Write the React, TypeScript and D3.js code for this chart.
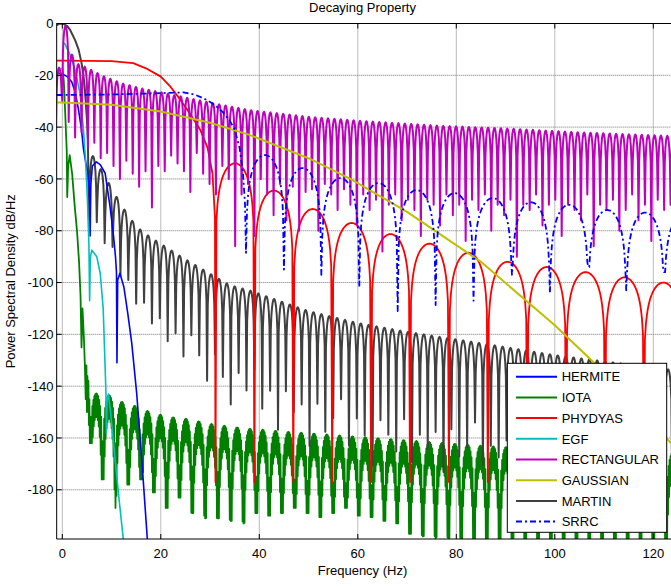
import React from 'react';
import * as d3 from 'd3';

const W = 671;
const H = 587;

// ---------- ticks ----------
const FREQ_TICKS = [0, 20, 40, 60, 80, 100, 120];
const DB_TICKS = [0, -20, -40, -60, -80, -100, -120, -140, -160, -180];

// ---------- series names / colours ----------
const SERIES = ['HERMITE', 'IOTA', 'PHYDYAS', 'EGF', 'RECTANGULAR', 'GAUSSIAN', 'MARTIN', 'SRRC'];
const COLORS = ['#0000FF', '#008000', '#FF0000', '#00BFBF', '#BF00BF', '#BFBF00', '#404040', '#0000FF'];

// ---------- HERMITE ----------
const HERMITE_F = [-1.15, 0, 1, 1.9, 2.6, 3.3, 3.9, 4.3, 4.8, 5.2, 5.5, 5.65, 5.8, 6.1, 6.9, 7.7, 8.7, 9.7, 10.4, 10.8, 11.0, 11.1, 11.25, 11.7, 12.5, 13.3, 14.1, 15.1, 16.2, 17.3];
const HERMITE_DB = [-19, -19.5, -20.5, -22.5, -26.3, -33.4, -41, -48.5, -54, -58, -64, -82, -62, -55, -53.4, -54.5, -57.8, -70.8, -82, -90, -96, -131, -99, -96.4, -101.7, -112, -123.4, -142.7, -170, -200];

// ---------- EGF ----------
const EGF_F = [0, 0.5, 1.6, 2.6, 3.6, 4.3, 4.7, 5.1, 5.4, 5.55, 5.7, 6.0, 7.0, 7.7, 8.3, 8.7, 8.85, 8.95, 9.1, 9.35, 9.8, 10.7, 11.6, 12.5];
const EGF_DB = [-7.2, -7.8, -12.2, -18, -27, -41, -52, -68, -85, -107, -90, -87.5, -90, -96.4, -110, -133, -142, -158, -146, -143, -150, -168, -185, -201];

// ---------- GAUSSIAN ----------
const GAUSSIAN_F = [-1.15, 0, 10, 20, 30, 38, 50, 58.5, 70, 85, 100, 111, 120, 126];
const GAUSSIAN_DB = [-30.5, -30.5, -31.4, -34, -38.3, -43, -52, -60, -72.7, -92, -116.5, -136.5, -154.5, -167];

// ---------- PHYDYAS ----------
const PHYDYAS_MAIN_F = [-1.15, 0, 10, 14.4, 17, 20, 22, 24, 26, 28, 29.5, 30.5, 31.0];
const PHYDYAS_MAIN_DB = [-14.3, -14.3, -14.5, -15.3, -17.3, -20.5, -24.5, -29.5, -35, -41, -48, -58, -75];
const PHYDYAS_NULLS = [31.1, 39.0, 46.9, 54.8, 62.7, 70.6, 78.5, 86.4, 94.4, 102.3, 110.2, 118.1, 126.0];
const PHYDYAS_NULL_DB = [-177, -177, -177, -177, -177, -177, -177, -177, -177, -177, -177, -177, -177];
const PHYDYAS_PEAKS = [-54, -64.5, -71.6, -77, -81.3, -85, -88.5, -92, -94, -96, -98, -100];

// ---------- SRRC ----------
const SRRC_MAIN_F = [-1.15, 0, 10, 18, 24.6, 27, 29.3, 31, 32.5, 34, 35, 36, 36.7, 37.1];
const SRRC_MAIN_DB = [-27.6, -27.6, -27.4, -27, -26.6, -27.5, -29.5, -31.5, -34, -37.5, -41, -48, -58, -70];
const SRRC_NULLS = [37.3, 45.0, 52.6, 60.3, 68.1, 75.8, 83.5, 91.3, 99.0, 106.8, 114.5, 122.2, 129.9];
const SRRC_NULL_DB = [-88.5, -95, -97, -101.7, -111, -108.7, -107, -97, -104, -94, -103, -96, -100];
const SRRC_PEAKS = [-50.8, -55.8, -59.7, -61.6, -64.3, -65.5, -67.4, -69, -70, -72, -73, -74];

// ---------- RECTANGULAR ----------
const RECT_FIRST_NULL = -1.3;
const RECT_PERIOD = 1.3;
const RECT_ENV_F = [-0.65, 0.65, 1.95, 3, 5, 8, 12, 16, 20, 30, 38, 50, 60, 77, 90, 105, 125];
const RECT_ENV_DB = [-17, -1, -12, -15.5, -17, -20, -23, -25, -26.5, -30.5, -33.4, -36, -37.5, -39.5, -40.5, -42, -43.5];
const RECT_NULL_DB = [-40, -30, -38, -44, -42, -48, -46, -52, -50, -55, -60, -53, -58, -63, -57, -71, -55, -57, -51, -54,
  -57, -65, -50, -58, -62, -66, -55, -60, -86, -66, -62, -82, -60, -66, -74, -62, -76, -63, -80, -65,
  -64, -80, -62, -66, -72, -64, -70, -78, -66, -72, -68, -88, -70, -66, -76, -68, -72, -82, -68, -70,
  -78, -66, -74, -70, -84, -68, -72, -66, -80, -70, -74, -68, -90, -70, -72, -66, -78, -70, -68, -82,
  -70, -72, -76, -66, -86, -70, -72, -68, -80, -72, -66, -76, -70, -84, -68, -72, -70, -78];

// ---------- MARTIN ----------
const MARTIN_MAIN_F = [-1.15, -0.5, 0.3, 1.0, 1.6, 2.6, 3.3, 3.9, 4.3, 4.6, 5.0, 5.2];
const MARTIN_MAIN_DB = [-0.6, 0, -0.2, -1, -2.5, -6.4, -10, -15.2, -20, -25.7, -37, -45];
const MARTIN_FIRST_NULL = 5.4;
const MARTIN_PERIOD = 1.6;
const MARTIN_ENV_F = [6.3, 8.3, 10.7, 12.3, 14.8, 16.4, 18.8, 25, 34, 38, 50, 60, 70, 85, 100, 125];
const MARTIN_ENV_DB = [-51.5, -57.8, -66, -71, -77.8, -80.5, -83.6, -91, -101, -103, -111, -115.6, -119, -123.4, -128, -134];
const MARTIN_NULL_DEPTH = [27, 23, 26, 22, 28, 25, 30, 27, 33, 29, 36, 31, 38, 28, 34, 42, 30, 37, 46, 33,
  39, 30, 44, 36, 50, 34, 41, 37, 52, 35, 45, 39, 31, 48, 37, 43, 54, 36, 41, 47,
  34, 50, 39, 44, 37, 52, 35, 45, 41, 31, 47, 39, 43, 36, 49, 41, 37, 45, 33, 47,
  39, 43, 37, 49, 41, 35, 44, 38, 50, 36, 42, 47, 34, 45, 40, 38];

// ---------- IOTA ----------
const IOTA_MAIN_F = [0, 0.3, 0.6, 0.9, 1.0, 1.2, 1.5, 2.0, 2.5, 3.0, 3.4, 3.7, 3.9, 4.1, 4.4, 4.6, 4.75, 4.9, 5.0, 5.1, 5.2, 5.3, 5.4, 5.5];
const IOTA_MAIN_DB = [-17, -22, -35, -49, -67, -55, -50.8, -58, -70, -80.4, -92, -105, -125, -110, -122, -133, -145, -132, -150, -136, -148, -138, -155, -145];
const IOTA_FIRST_NULL = 5.6;
const IOTA_PERIOD = 2.6;
const IOTA_ENV_F = [6.9, 9.5, 12.0, 14.6, 17.2, 19.8, 22.4, 25, 30, 36.7, 45, 60, 85, 100, 125];
const IOTA_ENV_DB = [-142.8, -143.5, -146, -147.5, -149.5, -151, -152, -152.5, -154.5, -156.2, -157.5, -159.5, -163, -164.5, -166];
const IOTA_NULL_DB = [-162, -176, -187, -178, -176, -181, -187, -183, -189, -191, -191, -192, -193, -189, -190, -189, -187, -189, -190.5, -189,
  -187, -190, -190.5, -192, -193, -197, -198, -200, -202, -203, -205, -201, -204, -206, -203, -205, -207, -204, -206, -205,
  -207, -203, -206, -204, -208, -205, -206];

type P = [number, number];

const zip = (f: number[], v: number[]): P[] => f.map((d, i) => [d, v[i]] as P);

function nullGrid(first: number, period: number, count: number) {
  return d3.range(count).map((k) => first + k * period);
}

// lobes between successive nulls, sinc-like shape
function lobes(nulls: number[], peaks: number[], nullDb: number[], samples = 14): P[] {
  const pts: P[] = [];
  for (let i = 0; i < peaks.length; i++) {
    const a = nulls[i], b = nulls[i + 1], p = peaks[i];
    const nl = nullDb[i], nr = nullDb[i + 1];
    pts.push([a, nl]);
    for (let k = 1; k < samples; k++) {
      const t = k / samples;
      const s = 20 * Math.log10(Math.sin(Math.PI * t));
      const floor = t < 0.5 ? nl : nr;
      pts.push([a + (b - a) * t, Math.max(p + s, floor)]);
    }
  }
  pts.push([nulls[peaks.length], nullDb[peaks.length]]);
  return pts;
}

// dense (rapidly oscillating) lobes that look filled
function denseLobes(nulls: number[], peaks: number[], nullDb: number[], step = 0.12): P[] {
  const pts: P[] = [];
  for (let i = 0; i < peaks.length; i++) {
    const a = nulls[i], b = nulls[i + 1], p = peaks[i];
    const nl = nullDb[i], nr = nullDb[i + 1];
    const n = Math.max(6, Math.round((b - a) / step));
    pts.push([a, nl]);
    for (let k = 1; k < n; k++) {
      const t = k / n;
      const s = 20 * Math.log10(Math.sin(Math.PI * t));
      const floor = t < 0.5 ? nl : nr;
      const upper = p + s;
      const lower = p - 9 + 2.2 * s;
      pts.push([a + (b - a) * t, Math.max(k % 2 ? upper : lower, floor)]);
    }
  }
  pts.push([nulls[peaks.length], nullDb[peaks.length]]);
  return pts;
}

function envLobes(first: number, period: number, nLobes: number, envF: number[], envDb: number[]) {
  const env = d3.scaleLinear().domain(envF).range(envDb);
  const nulls = nullGrid(first, period, nLobes + 1);
  const peaks = d3.range(nLobes).map((i) => env((nulls[i] + nulls[i + 1]) / 2));
  return { nulls, peaks, env };
}

export default function App() {
  const x = d3.scaleLinear().domain([0, 120]).range([62.3, 653.3]);
  const y = d3.scaleLinear().domain([-199, 0]).range([539, 23.5]);
  const left = x(-1.14);
  const right = x(126);
  const top = y(0);
  const bottom = y(-199);

  const line = d3.line<P>().x((d) => x(d[0])).y((d) => y(d[1]));

  // RECTANGULAR
  const rect = envLobes(RECT_FIRST_NULL, RECT_PERIOD, RECT_NULL_DB.length - 1, RECT_ENV_F, RECT_ENV_DB);
  const rectPts = lobes(rect.nulls, rect.peaks, RECT_NULL_DB, 10);

  // MARTIN
  const mart = envLobes(MARTIN_FIRST_NULL, MARTIN_PERIOD, MARTIN_NULL_DEPTH.length - 1, MARTIN_ENV_F, MARTIN_ENV_DB);
  const martNullDb = mart.nulls.map((f, i) => mart.env(f) - MARTIN_NULL_DEPTH[i]);
  const martinPts = [...zip(MARTIN_MAIN_F, MARTIN_MAIN_DB), ...lobes(mart.nulls, mart.peaks, martNullDb, 12)];

  // IOTA
  const iota = envLobes(IOTA_FIRST_NULL, IOTA_PERIOD, IOTA_NULL_DB.length - 1, IOTA_ENV_F, IOTA_ENV_DB);
  const iotaPts = [...zip(IOTA_MAIN_F, IOTA_MAIN_DB), ...denseLobes(iota.nulls, iota.peaks, IOTA_NULL_DB, 0.1)];

  // PHYDYAS, SRRC
  const phyPts = [...zip(PHYDYAS_MAIN_F, PHYDYAS_MAIN_DB), ...lobes(PHYDYAS_NULLS, PHYDYAS_PEAKS, PHYDYAS_NULL_DB, 40)];
  const srrcPts = [...zip(SRRC_MAIN_F, SRRC_MAIN_DB), ...lobes(SRRC_NULLS, SRRC_PEAKS, SRRC_NULL_DB, 40)];

  const hermPts = zip(HERMITE_F, HERMITE_DB);
  const egfPts = zip(EGF_F, EGF_DB);
  const gaussPts = zip(GAUSSIAN_F, GAUSSIAN_DB);

  const font = "'Liberation Sans', Arial, sans-serif";

  const legendX = 507.3, legendY = 363.3, legendW = 159.4, legendH = 169;
  const dashes = [null, null, null, null, null, null, null, '6,3,2,3'];

  return (
    <svg width={W} height={H} style={{ position: 'absolute', left: 0, top: 0, display: 'block', background: '#fff' }} fontFamily={font}>
      <defs>
        <clipPath id="plotclip">
          <rect x={left} y={top} width={right - left} height={bottom - top} />
        </clipPath>
      </defs>
      <rect x={0} y={0} width={W} height={H} fill="#fff" />
      {/* grid */}
      <g stroke="#666" strokeWidth={0.9} strokeDasharray="1,1">
        {FREQ_TICKS.map((t) => (
          <line key={'gx' + t} x1={x(t)} x2={x(t)} y1={top} y2={bottom} />
        ))}
        {DB_TICKS.map((t) => (
          <line key={'gy' + t} x1={left} x2={right} y1={y(t)} y2={y(t)} />
        ))}
      </g>
      <g clipPath="url(#plotclip)" fill="none" strokeLinejoin="round">
        <path d={line(iotaPts) || ''} stroke={COLORS[1]} strokeWidth={1.8} />
        <path d={line(martinPts) || ''} stroke={COLORS[6]} strokeWidth={2} />
        <path d={line(hermPts) || ''} stroke={COLORS[0]} strokeWidth={1.6} />
        <path d={line(egfPts) || ''} stroke={COLORS[3]} strokeWidth={1.6} />
        <path d={line(phyPts) || ''} stroke={COLORS[2]} strokeWidth={1.8} />
        <path d={line(rectPts) || ''} stroke={COLORS[4]} strokeWidth={2} />
        <path d={line(gaussPts) || ''} stroke={COLORS[5]} strokeWidth={2} />
        <path d={line(srrcPts) || ''} stroke={COLORS[7]} strokeWidth={1.8} strokeDasharray="6,3,2,3" />
      </g>
      {/* axes box */}
      <g stroke="#000" strokeWidth={1} fill="none">
        <line x1={left} x2={right} y1={top} y2={top} />
        <line x1={left} x2={right} y1={bottom} y2={bottom} />
        <line x1={left} x2={left} y1={top} y2={bottom} />
        {FREQ_TICKS.map((t) => (
          <g key={'tx' + t}>
            <line x1={x(t)} x2={x(t)} y1={bottom} y2={bottom - 5} />
            <line x1={x(t)} x2={x(t)} y1={top} y2={top + 5} />
          </g>
        ))}
        {DB_TICKS.map((t) => (
          <line key={'ty' + t} x1={left} x2={left + 5} y1={y(t)} y2={y(t)} />
        ))}
      </g>
      {/* tick labels */}
      <g fontSize={13} fill="#000">
        {FREQ_TICKS.map((t) => (
          <text key={'lx' + t} x={x(t)} y={558} textAnchor="middle">{t}</text>
        ))}
        {DB_TICKS.map((t) => (
          <text key={'ly' + t} x={53.5} y={y(t) + 4.6} textAnchor="end">{t}</text>
        ))}
      </g>
      <text x={362.5} y={11.5} fontSize={13} textAnchor="middle">Decaying Property</text>
      <text x={362.5} y={575} fontSize={13} textAnchor="middle">Frequency (Hz)</text>
      <text transform={`translate(14.5, ${(top + bottom) / 2}) rotate(-90)`} fontSize={13} textAnchor="middle">Power Spectral Density dB/Hz</text>
      {/* legend */}
      <g>
        <rect x={legendX} y={legendY} width={legendW} height={legendH} fill="#fff" stroke="#000" strokeWidth={1} />
        {SERIES.map((s, i) => {
          const cy = 376.7 + i * 20.7;
          return (
            <g key={s}>
              <line x1={516} x2={557} y1={cy} y2={cy} stroke={COLORS[i]} strokeWidth={2} strokeDasharray={dashes[i] || undefined} />
              <text x={561.7} y={cy + 4.7} fontSize={13} fill="#000">{s}</text>
            </g>
          );
        })}
      </g>
    </svg>
  );
}
